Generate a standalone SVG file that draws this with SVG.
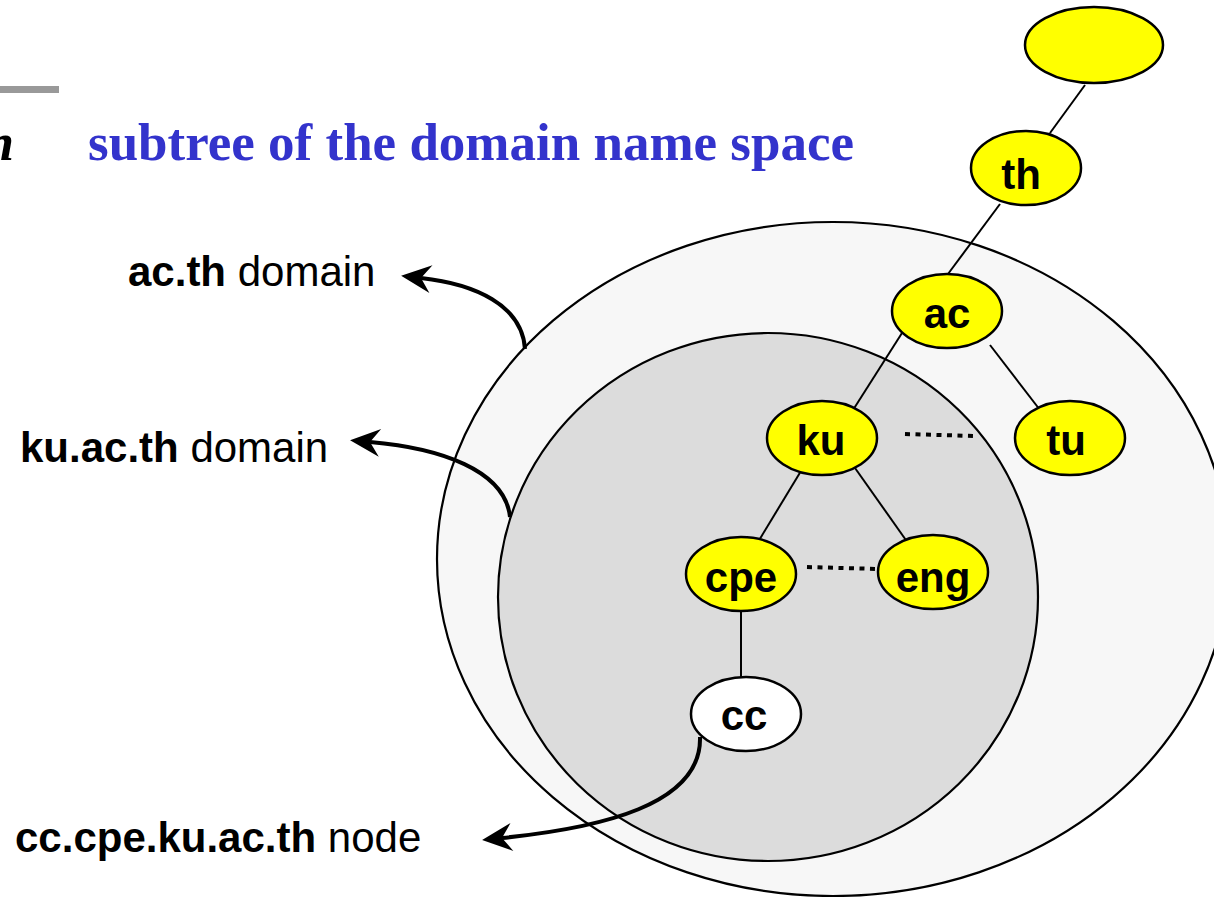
<svg xmlns="http://www.w3.org/2000/svg" width="1214" height="897" viewBox="0 0 1214 897">
<style>
.region{stroke:#000;stroke-width:2.2}
.node{fill:#ffff00;stroke:#000;stroke-width:2.5}
.edge{stroke:#000;stroke-width:2;fill:none}
.dots{stroke:#000;stroke-width:4;stroke-dasharray:5 5.5;fill:none}
.arrow{stroke:#000;stroke-width:4;fill:none;marker-end:url(#barb)}
.nl{font-family:"Liberation Sans",Arial,sans-serif;font-weight:bold;font-size:42px;text-anchor:middle;fill:#000}
.lbl{font-family:"Liberation Sans",Arial,sans-serif;font-size:42px;fill:#000}
.b{font-weight:bold}
</style>
<defs>
<marker id="barb" markerUnits="userSpaceOnUse" viewBox="-12 -15 33 30" refX="0" refY="0" markerWidth="33" markerHeight="30" orient="auto" overflow="visible">
<path d="M20,0 L-10,-14 L0,0 L-10,14 Z" fill="#000"/>
</marker>
</defs>
<rect x="0" y="86" width="59" height="7" fill="#999999"/>
<text x="14" y="160" text-anchor="end" font-family="'Liberation Serif','Times New Roman',serif" font-weight="bold" font-style="italic" font-size="53" fill="#000">n</text>
<text x="88" y="160" font-family="'Liberation Serif','Times New Roman',serif" font-weight="bold" font-size="53" fill="#3333cc">subtree of the domain name space</text>
<g id="acth-domain">
<ellipse class="region" cx="833" cy="559" rx="396" ry="337" fill="#f7f7f7"/>
</g>
<g id="kuacth-domain">
<ellipse class="region" cx="768" cy="597" rx="270" ry="264" fill="#dcdcdc"/>
</g>
<g id="connectors">
<line class="edge" x1="1085" y1="85" x2="1050" y2="133"/>
<line class="edge" x1="1000" y1="204" x2="948" y2="274"/>
<line class="edge" x1="902" y1="333" x2="853" y2="410"/>
<line class="edge" x1="990" y1="345" x2="1040" y2="410"/>
<line class="edge" x1="801" y1="471" x2="758" y2="542"/>
<line class="edge" x1="855" y1="468" x2="908" y2="543"/>
<line class="edge" x1="741" y1="610" x2="741" y2="678"/>
<line class="dots" x1="905" y1="434" x2="975" y2="436"/>
<line class="dots" x1="807" y1="567" x2="878" y2="569"/>
</g>
<g id="root"><ellipse class="node" cx="1094" cy="45" rx="69" ry="38"/></g>
<g id="th"><ellipse class="node" cx="1026" cy="168" rx="55" ry="37"/><text class="nl" x="1021" y="189">th</text></g>
<g id="ac"><ellipse class="node" cx="947" cy="311" rx="55" ry="37"/><text class="nl" x="947" y="328">ac</text></g>
<g id="ku"><ellipse class="node" cx="822" cy="438" rx="55" ry="37"/><text class="nl" x="821" y="455">ku</text></g>
<g id="tu"><ellipse class="node" cx="1070" cy="438" rx="55" ry="37"/><text class="nl" x="1066" y="455">tu</text></g>
<g id="cpe"><ellipse class="node" cx="741" cy="574" rx="55" ry="37"/><text class="nl" x="741" y="592">cpe</text></g>
<g id="eng"><ellipse class="node" cx="933" cy="572" rx="55" ry="37"/><text class="nl" x="933" y="592">eng</text></g>
<g id="cc"><ellipse class="node" cx="746" cy="714" rx="55" ry="37" fill="#ffffff" style="fill:#fff"/><text class="nl" x="744" y="730">cc</text></g>
<g id="pointers">
<path class="arrow" d="M525,349 C522,305 475,284 421,278"/>
<path class="arrow" d="M510,517 C505,470 440,448 370,442"/>
<path class="arrow" d="M700,737 C702,805 600,828 502,838"/>
</g>
<g id="labels">
<text class="lbl" x="128" y="286"><tspan class="b">ac.th</tspan> domain</text>
<text class="lbl" x="20" y="462"><tspan class="b">ku.ac.th</tspan> domain</text>
<text class="lbl" x="15" y="852"><tspan class="b">cc.cpe.ku.ac.th</tspan> node</text>
</g>
</svg>
